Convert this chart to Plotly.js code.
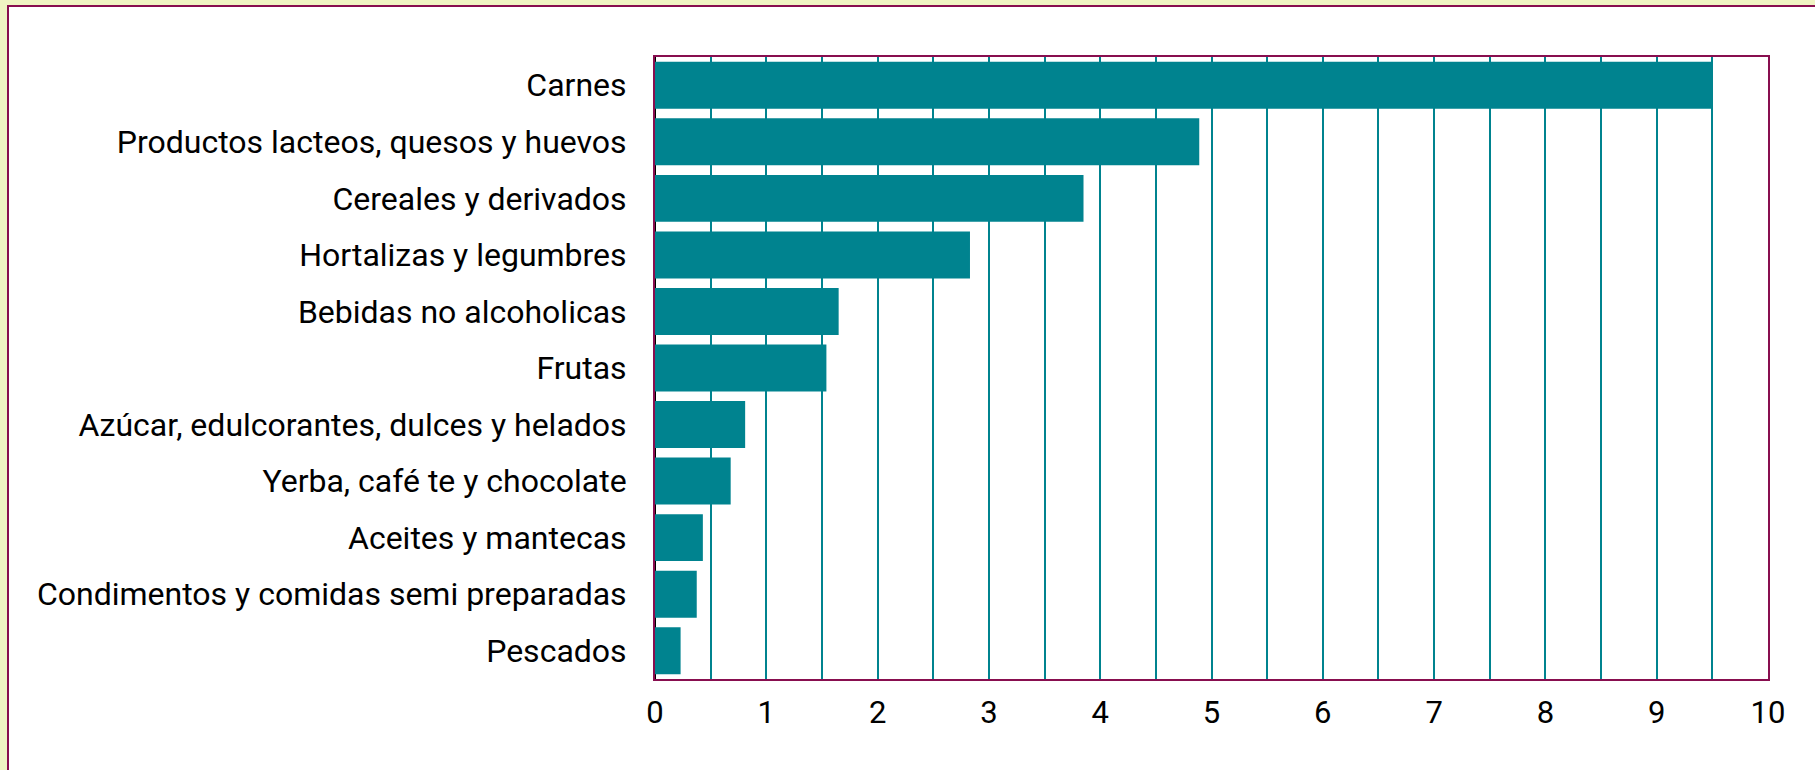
<!DOCTYPE html>
<html>
<head>
<meta charset="utf-8">
<script src="https://cdn.plot.ly/plotly-3.0.1.min.js"></script>
<style>
  html, body { margin: 0; padding: 0; background: #f0f4c3; width: 1815px; height: 770px; overflow: hidden; }
  #chart { position: absolute; left: 7px; top: 5px; width: 1806px; height: 763px;
           border-left: 2px solid #880e4f; border-top: 2px solid #880e4f; background: #ffffff; }
</style>
</head>
<body>
<div id="chart"></div>
<script>
const categories = [
  "Carnes",
  "Productos lacteos, quesos y huevos",
  "Cereales y derivados",
  "Hortalizas y legumbres",
  "Bebidas no alcoholicas",
  "Frutas",
  "Azúcar, edulcorantes, dulces y helados",
  "Yerba, café te y chocolate",
  "Aceites y mantecas",
  "Condimentos y comidas semi preparadas",
  "Pescados"
];
const values = [9.5, 4.89, 3.85, 2.83, 1.65, 1.54, 0.81, 0.68, 0.43, 0.375, 0.23];
const xTickVals = [0, 1, 2, 3, 4, 5, 6, 7, 8, 9, 10];

const teal = "#00838f";
const magenta = "#880e4f";

const trace = {
  type: "bar",
  orientation: "h",
  y: categories,
  x: values,
  marker: { color: teal, line: { width: 0 } },
  hoverinfo: "x+y"
};

const layout = {
  width: 1806,
  height: 763,
  margin: { l: 646, r: 47, t: 50, b: 91, pad: 0 },
  paper_bgcolor: "#ffffff",
  plot_bgcolor: "#ffffff",
  showlegend: false,
  bargap: 0.17,
  font: { family: "Roboto, sans-serif", size: 32, color: "#000000" },
  xaxis: {
    range: [0, 10],
    tickvals: xTickVals,
    ticktext: xTickVals.map(String),
    showgrid: true,
    gridcolor: teal,
    gridwidth: 2,
    minor: { dtick: 0.5, tick0: 0, showgrid: true, gridcolor: teal, gridwidth: 2 },
    showline: true,
    linecolor: magenta,
    linewidth: 2,
    mirror: true,
    zeroline: true,
    zerolinecolor: "#000000",
    zerolinewidth: 2,
    ticks: "",
    ticklabelstandoff: 5,
    tickfont: { family: "Roboto, sans-serif", size: 31, color: "#000000" },
    fixedrange: true
  },
  yaxis: {
    type: "category",
    autorange: "reversed",
    showgrid: false,
    showline: true,
    linecolor: magenta,
    linewidth: 2,
    mirror: true,
    zeroline: false,
    ticks: "",
    ticklabelstandoff: 20,
    tickfont: { family: "Roboto, sans-serif", size: 32, color: "#000000" },
    fixedrange: true
  }
};

Plotly.newPlot("chart", [trace], layout, { displayModeBar: false, staticPlot: true });
</script>
</body>
</html>
